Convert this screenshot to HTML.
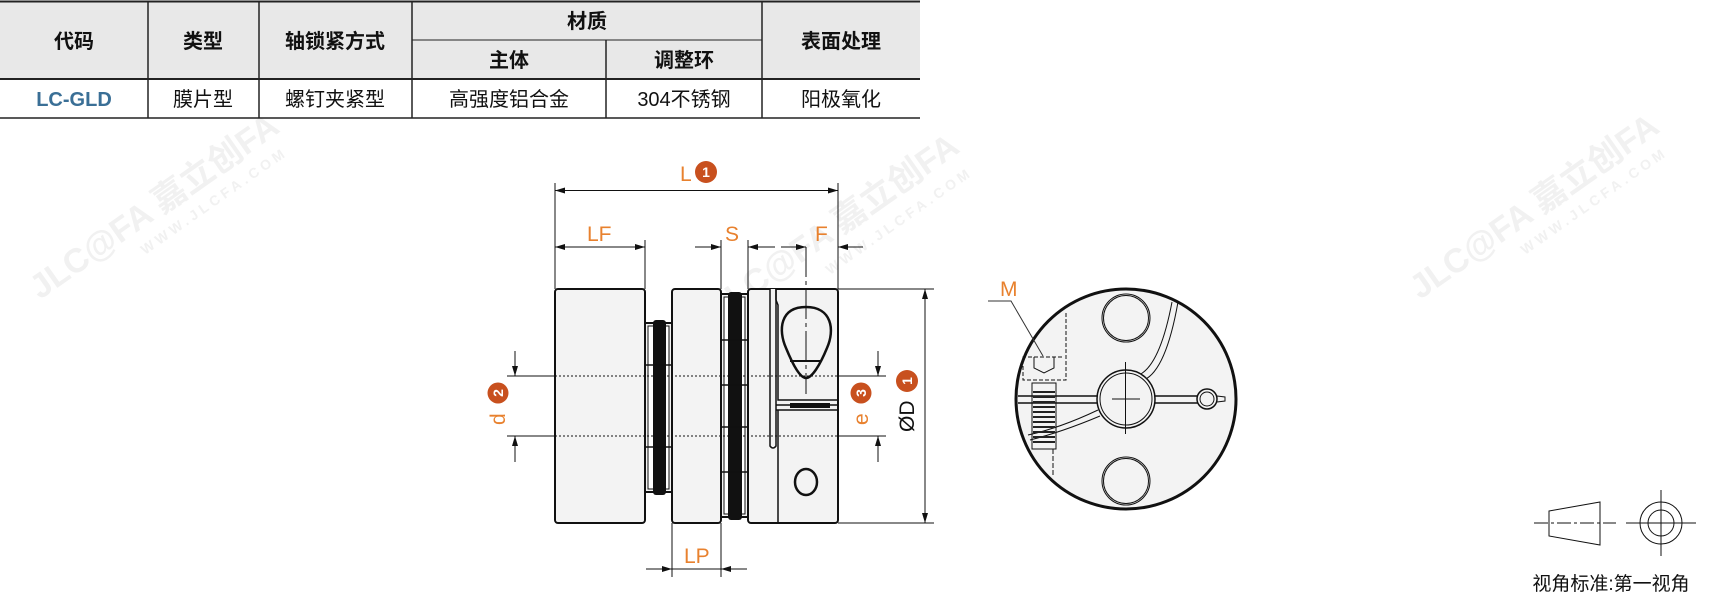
<!DOCTYPE html>
<html><head><meta charset="utf-8"><style>
html,body{margin:0;padding:0;background:#fff;}
body{width:1711px;height:609px;position:relative;overflow:hidden;font-family:"Liberation Sans","Noto Sans CJK SC",sans-serif;}
svg{position:absolute;left:0;top:0;}
</style></head><body>
<svg width="1711" height="609" viewBox="0 0 1711 609" xmlns="http://www.w3.org/2000/svg" font-family="Liberation Sans, Noto Sans CJK SC, sans-serif">
<defs>
<marker id="a" viewBox="0 0 10 6" refX="10" refY="3" markerWidth="10" markerHeight="6" orient="auto-start-reverse" markerUnits="userSpaceOnUse"><path d="M0,0 L10,3 L0,6 z" fill="#111"/></marker>
</defs>
<!-- watermarks -->
<g fill="#f1f1f1" font-weight="bold">
<text x="40" y="300" font-size="34" transform="rotate(-35 40 300)">JLC@FA 嘉立创FA</text>
<text x="145" y="255" font-size="14" transform="rotate(-35 145 255)" letter-spacing="4">WWW.JLCFA.COM</text>
<text x="720" y="320" font-size="34" transform="rotate(-35 720 320)">JLC@FA 嘉立创FA</text>
<text x="830" y="275" font-size="14" transform="rotate(-35 830 275)" letter-spacing="4">WWW.JLCFA.COM</text>
<text x="1420" y="300" font-size="34" transform="rotate(-35 1420 300)">JLC@FA 嘉立创FA</text>
<text x="1525" y="255" font-size="14" transform="rotate(-35 1525 255)" letter-spacing="4">WWW.JLCFA.COM</text>
</g>
<!-- table -->
<rect x="0" y="1" width="920" height="78" fill="#e8e8e8"/>
<g stroke="#222" fill="none">
<line x1="0" y1="1.5" x2="920" y2="1.5" stroke-width="2"/>
<line x1="0" y1="79" x2="920" y2="79" stroke-width="2"/>
<line x1="0" y1="118" x2="920" y2="118" stroke-width="1.5"/>
<line x1="412" y1="40" x2="762" y2="40" stroke-width="1"/>
<line x1="148" y1="1" x2="148" y2="118" stroke-width="1.5"/>
<line x1="259" y1="1" x2="259" y2="118" stroke-width="1.5"/>
<line x1="412" y1="1" x2="412" y2="118" stroke-width="1.5"/>
<line x1="606" y1="40" x2="606" y2="118" stroke-width="1.5"/>
<line x1="762" y1="1" x2="762" y2="118" stroke-width="1.5"/>
</g>
<g font-size="20" text-anchor="middle" fill="#111">
<g font-weight="bold">
<text x="74" y="48">代码</text>
<text x="203" y="48">类型</text>
<text x="335" y="48">轴锁紧方式</text>
<text x="587" y="28">材质</text>
<text x="509" y="67">主体</text>
<text x="684" y="67">调整环</text>
<text x="841" y="48">表面处理</text>
<text x="74" y="106" fill="#3a6f96">LC-GLD</text>
</g>
<text x="203" y="106">膜片型</text>
<text x="335" y="106">螺钉夹紧型</text>
<text x="509" y="106">高强度铝合金</text>
<text x="684" y="106">304不锈钢</text>
<text x="841" y="106">阳极氧化</text>
</g>
<!-- side view bodies -->
<g stroke="#111" stroke-width="2" fill="#f3f3f3">
<rect x="555" y="289" width="90" height="234" rx="3"/>
<rect x="672" y="289" width="49" height="234" rx="3"/>
<rect x="748" y="289" width="90" height="234" rx="3"/>
<rect x="645" y="323" width="27" height="169"/>
<rect x="721" y="294" width="27" height="223"/>
</g>
<g fill="#fff" stroke="#111" stroke-width="1">
<rect x="648" y="326" width="21" height="163"/>
<rect x="724" y="297" width="21" height="217"/>
</g>
<g fill="#111">
<rect x="653" y="320" width="13" height="175" rx="3"/>
<rect x="728" y="292" width="14" height="228" rx="3"/>
</g>
<g stroke="#111" stroke-width="1.5">
<line x1="645" y1="365" x2="672" y2="365"/><line x1="645" y1="447" x2="672" y2="447"/>
<line x1="721" y1="340" x2="748" y2="340"/><line x1="721" y1="385" x2="748" y2="385"/>
<line x1="721" y1="427" x2="748" y2="427"/><line x1="721" y1="472" x2="748" y2="472"/>
</g>
<!-- slot on right hub -->
<g stroke="#111" stroke-width="1.5" fill="#f3f3f3">
<path d="M770,289 L770,446 Q773,450 776,446 L776,289"/>
<path d="M776,289 L776,300 L778,305 L778,400 L838,400" fill="none"/>
<path d="M776,405 L838,405 M776,410 L838,410 M778,410 L778,523" fill="none"/>
</g>
<rect x="790" y="403" width="40" height="5" fill="#111"/>
<path d="M806,307 C780,307 778,330 786,348 C793,365 800,378 806,378 C812,378 820,365 827,348 C835,330 832,307 806,307 z" fill="#f3f3f3" stroke="#111" stroke-width="2.5"/>
<line x1="790" y1="361" x2="822" y2="361" stroke="#111" stroke-width="2"/>
<ellipse cx="806" cy="482" rx="11" ry="13" fill="none" stroke="#111" stroke-width="2.5"/>
<line x1="806" y1="247" x2="806" y2="394" stroke="#111" stroke-width="1" stroke-dasharray="30,4,4,4"/>
<!-- dotted axes -->
<g stroke="#111" stroke-width="1" stroke-dasharray="2,2">
<line x1="555" y1="376" x2="838" y2="376"/><line x1="555" y1="436" x2="838" y2="436"/>
</g>
<!-- dimension lines -->
<g stroke="#111" stroke-width="1" fill="none">
<line x1="555" y1="183" x2="555" y2="289"/><line x1="838" y1="183" x2="838" y2="289"/>
<line x1="555" y1="190.5" x2="838" y2="190.5" marker-start="url(#a)" marker-end="url(#a)"/>
<line x1="645" y1="240" x2="645" y2="289"/>
<line x1="555" y1="247" x2="645" y2="247" marker-start="url(#a)" marker-end="url(#a)"/>
<line x1="721" y1="240" x2="721" y2="289"/><line x1="748" y1="240" x2="748" y2="289"/>
<line x1="695" y1="247" x2="721" y2="247" marker-end="url(#a)"/>
<line x1="775" y1="247" x2="748" y2="247" marker-end="url(#a)"/>
<line x1="781" y1="247" x2="806" y2="247" marker-end="url(#a)"/>
<line x1="863" y1="247" x2="838" y2="247" marker-end="url(#a)"/>
<line x1="507" y1="376" x2="555" y2="376"/><line x1="507" y1="436" x2="555" y2="436"/>
<line x1="515" y1="351" x2="515" y2="376" marker-end="url(#a)"/>
<line x1="515" y1="462" x2="515" y2="436" marker-end="url(#a)"/>
<line x1="838" y1="376" x2="886" y2="376"/><line x1="838" y1="436" x2="886" y2="436"/>
<line x1="878" y1="351" x2="878" y2="376" marker-end="url(#a)"/>
<line x1="878" y1="462" x2="878" y2="436" marker-end="url(#a)"/>
<line x1="838" y1="289" x2="934" y2="289"/><line x1="838" y1="523" x2="934" y2="523"/>
<line x1="925" y1="289" x2="925" y2="523" marker-start="url(#a)" marker-end="url(#a)"/>
<line x1="672" y1="523" x2="672" y2="577"/><line x1="721" y1="523" x2="721" y2="577"/>
<line x1="646" y1="569" x2="672" y2="569" marker-end="url(#a)"/>
<line x1="747" y1="569" x2="721" y2="569" marker-end="url(#a)"/>
<line x1="672" y1="569" x2="721" y2="569"/>
</g>
<!-- labels -->
<g fill="#e8812e" font-size="21">
<text x="680" y="181">L</text>
<text x="587" y="241">LF</text>
<text x="725" y="241">S</text>
<text x="815" y="241">F</text>
<text x="684" y="563">LP</text>
<text x="1000" y="296">M</text>
<text transform="translate(505,425) rotate(-90)">d</text>
<text transform="translate(868,425) rotate(-90)">e</text>
<text transform="translate(914,432) rotate(-90)" fill="#111">ØD</text>
</g>
<g fill="#c8501e">
<circle cx="706" cy="172" r="11"/>
<circle cx="498" cy="393" r="10.5"/>
<circle cx="861" cy="393" r="10.5"/>
<circle cx="907" cy="381" r="11"/>
</g>
<g fill="#fff" font-size="14" font-weight="bold" text-anchor="middle">
<text x="706" y="177">1</text>
<text transform="translate(503,393) rotate(-90)">2</text>
<text transform="translate(866,393) rotate(-90)">3</text>
<text transform="translate(912,381) rotate(-90)">1</text>
</g>
<!-- end view -->
<circle cx="1126" cy="399" r="110" fill="#f3f3f3" stroke="#111" stroke-width="3"/>
<g fill="none" stroke="#111" stroke-width="1">
<circle cx="1126" cy="318" r="24"/><circle cx="1126" cy="318" r="22.5"/>
<circle cx="1126" cy="481" r="24"/><circle cx="1126" cy="481" r="22.5"/>
<path d="M1172,302 Q1160,365 1139,375" /><path d="M1178,302 Q1166,370 1144,380"/>
<path d="M1098,410 Q1060,428 1028,435"/><path d="M1100,416 Q1062,432 1030,440"/>
<line x1="1018" y1="396" x2="1198" y2="396" stroke-width="1.5"/>
<line x1="1018" y1="403" x2="1198" y2="403" stroke-width="1.5"/>
<circle cx="1207" cy="399" r="10" stroke-width="1.5"/><circle cx="1207" cy="399" r="7"/>
<path d="M1217,396 L1225,397 L1225,401 L1217,402"/>
</g>
<circle cx="1126" cy="399" r="29" fill="#f3f3f3" stroke="#111" stroke-width="1.5"/>
<circle cx="1126" cy="399" r="26" fill="none" stroke="#111" stroke-width="1"/>
<line x1="1112" y1="399" x2="1140" y2="399" stroke="#111"/>
<line x1="1125.5" y1="362" x2="1125.5" y2="434" stroke="#111"/>
<!-- screw -->
<g stroke="#111" stroke-width="1" fill="none">
<path d="M1066,313 L1066,380 L1023,380 L1023,357 L1063,357" stroke-dasharray="4,2"/>
<path d="M1034,357 L1034,368 L1044,373 L1054,368 L1054,357"/>
<rect x="1032" y="383" width="24" height="66"/>
<line x1="1053" y1="449" x2="1053" y2="475" stroke-dasharray="5,2"/>
</g>
<g stroke="#222" stroke-width="2">
<line x1="1033" y1="392" x2="1055" y2="392"/><line x1="1033" y1="397" x2="1055" y2="397"/>
<line x1="1033" y1="402" x2="1055" y2="402"/><line x1="1033" y1="407" x2="1055" y2="407"/>
<line x1="1033" y1="412" x2="1055" y2="412"/><line x1="1033" y1="417" x2="1055" y2="417"/>
<line x1="1033" y1="422" x2="1055" y2="422"/><line x1="1033" y1="427" x2="1055" y2="427"/>
<line x1="1033" y1="432" x2="1055" y2="432"/><line x1="1033" y1="437" x2="1055" y2="437"/>
<line x1="1033" y1="442" x2="1055" y2="442"/>
</g>
<path d="M988,301 L1011,301 L1043,356" stroke="#333" stroke-width="1" fill="none"/>
<!-- projection symbol -->
<g stroke="#111" stroke-width="1" fill="none">
<path d="M1549,511 L1600,502 L1600,545 L1549,536 z"/>
<line x1="1534" y1="523" x2="1616" y2="523" stroke-dasharray="14,3,3,3"/>
<circle cx="1661" cy="523" r="21"/><circle cx="1661" cy="523" r="13"/>
<line x1="1626" y1="523" x2="1696" y2="523"/><line x1="1661" y1="490" x2="1661" y2="556"/>
</g>
<text x="1611" y="590" font-size="19" text-anchor="middle" fill="#111">视角标准:第一视角</text>
</svg>
</body></html>
